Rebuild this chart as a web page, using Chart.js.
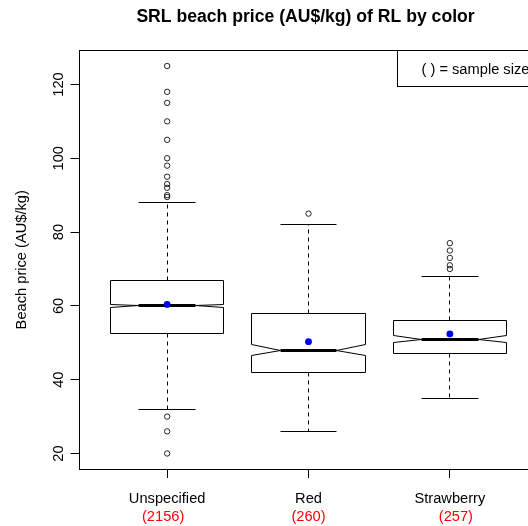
<!DOCTYPE html>
<html>
<head>
<meta charset="utf-8">
<script src="https://cdn.jsdelivr.net/npm/chart.js@4.4.1/dist/chart.umd.min.js"></script>
<style>
  html, body { margin: 0; padding: 0; background: #fff; overflow: hidden; }
  #wrap { width: 528px; height: 526px; overflow: hidden; position: relative; }
  canvas { display: block; }
</style>
</head>
<body>
<div id="wrap"><canvas id="chart" width="546" height="526"></canvas></div>
<script>
// ---- data -------------------------------------------------------------
const categories   = ['Unspecified', 'Red', 'Strawberry'];
const sampleSizes  = [2156, 260, 257];
const whiskerLow   = [32, 26, 35];
const hingeLow     = [52.5, 42, 47];
const medians      = [60, 48, 51];
const hingeHigh    = [67, 58, 56];
const whiskerHigh  = [88, 82, 68];
const means        = [60.4, 50.3, 52.4];
const outliersUnspecified = [125, 118, 115, 110, 105, 100, 98, 95, 93, 92, 90, 89.5, 30, 26, 20];
const outliersRed         = [85];
const outliersStrawberry  = [77, 75, 73, 71, 70];
const yTicks = [20, 40, 60, 80, 100, 120];

const titleText  = 'SRL beach price (AU$/kg) of RL by color';
const yTitleText = 'Beach price (AU$/kg)';
const legendText = '( ) = sample size';

// ---- layout / style ---------------------------------------------------
const FONT = '"Liberation Sans", Arial, Helvetica, sans-serif';
const BASE = 14.67;
const xRange = [0.38, 3.62];
const yRange = [15.8, 129.2];
const boxWex = 0.8;          // full box width in category units
const stapleWex = 0.5;       // whisker cap width relative to box
const countNudge = [-4, 0, 6];

const outlierGroups = [outliersUnspecified, outliersRed, outliersStrawberry];
const outlierPoints = [];
outlierGroups.forEach((grp, i) => grp.forEach(v => outlierPoints.push({ x: i + 1, y: v })));
const meanPoints = means.map((v, i) => ({ x: i + 1, y: v }));

const snap = v => Math.floor(v) + 0.5;

function seg(ctx, x1, y1, x2, y2) {
  ctx.beginPath();
  ctx.moveTo(x1, y1);
  ctx.lineTo(x2, y2);
  ctx.stroke();
}

// Notched boxes, whiskers, caps and medians
const boxPlugin = {
  id: 'notchedBoxes',
  beforeDatasetsDraw(chart) {
    const { ctx } = chart;
    const xs = chart.scales.x, ys = chart.scales.y;
    const px = v => snap(xs.getPixelForValue(v));
    const py = v => snap(ys.getPixelForValue(v));
    ctx.save();
    ctx.strokeStyle = '#000';
    categories.forEach((_, i) => {
      const c = i + 1;
      const half = boxWex / 2, nHalf = half / 2, st = half * stapleWex;
      const notch = 1.58 * (hingeHigh[i] - hingeLow[i]) / Math.sqrt(sampleSizes[i]);
      const m = medians[i];

      ctx.lineWidth = 1;
      ctx.beginPath();
      ctx.moveTo(px(c - half), py(hingeLow[i]));
      ctx.lineTo(px(c - half), py(m - notch));
      ctx.lineTo(px(c - nHalf), py(m));
      ctx.lineTo(px(c - half), py(m + notch));
      ctx.lineTo(px(c - half), py(hingeHigh[i]));
      ctx.lineTo(px(c + half), py(hingeHigh[i]));
      ctx.lineTo(px(c + half), py(m + notch));
      ctx.lineTo(px(c + nHalf), py(m));
      ctx.lineTo(px(c + half), py(m - notch));
      ctx.lineTo(px(c + half), py(hingeLow[i]));
      ctx.closePath();
      ctx.stroke();

      ctx.setLineDash([4, 4]);
      seg(ctx, px(c), py(hingeHigh[i]), px(c), py(whiskerHigh[i]));
      seg(ctx, px(c), py(hingeLow[i]), px(c), py(whiskerLow[i]));
      ctx.setLineDash([]);

      seg(ctx, px(c - st), py(whiskerHigh[i]), px(c + st), py(whiskerHigh[i]));
      seg(ctx, px(c - st), py(whiskerLow[i]), px(c + st), py(whiskerLow[i]));

      ctx.lineWidth = 3;
      seg(ctx, px(c - nHalf), py(m), px(c + nHalf), py(m));
    });
    ctx.restore();
  }
};

// Frame, titles, tick labels and the sample-size note
const textPlugin = {
  id: 'annotations',
  afterDraw(chart) {
    const { ctx, chartArea: a } = chart;
    const xs = chart.scales.x, ys = chart.scales.y;
    ctx.save();
    ctx.strokeStyle = '#000';
    ctx.lineWidth = 1;
    ctx.strokeRect(snap(a.left), snap(a.top), snap(a.right) - snap(a.left), snap(a.bottom) - snap(a.top));

    ctx.fillStyle = '#000';
    ctx.textAlign = 'center';
    ctx.textBaseline = 'alphabetic';

    // main title
    ctx.font = `bold ${BASE * 1.2}px ${FONT}`;
    ctx.fillText(titleText, xs.getPixelForValue(2) - 3, 21.5);

    // y tick labels (rotated, as in base graphics)
    ctx.font = `${BASE}px ${FONT}`;
    yTicks.forEach(v => {
      ctx.save();
      ctx.translate(a.left - 17, ys.getPixelForValue(v));
      ctx.rotate(-Math.PI / 2);
      ctx.fillText(String(v), 0, 0);
      ctx.restore();
    });

    // y axis title
    ctx.save();
    ctx.translate(a.left - 53.5, (a.top + a.bottom) / 2);
    ctx.rotate(-Math.PI / 2);
    ctx.fillText(yTitleText, 0, 0);
    ctx.restore();

    // category names and sample sizes
    categories.forEach((name, i) => {
      const cx = xs.getPixelForValue(i + 1);
      ctx.fillStyle = '#000';
      ctx.fillText(name, cx, a.bottom + 33.5);
      ctx.fillStyle = '#FF0000';
      ctx.fillText('(' + sampleSizes[i] + ')', cx + countNudge[i], a.bottom + 52);
    });

    // sample-size note in the top-right corner
    const lw = 140, lh = 36;
    const lx = a.right - lw, ly = a.top;
    ctx.strokeRect(snap(lx), snap(ly), lw, lh);
    ctx.fillStyle = '#000';
    ctx.textAlign = 'left';
    ctx.fillText(legendText, lx + 24, ly + 23.5);
    ctx.restore();
  }
};

const gridOpts = { drawOnChartArea: false, drawTicks: true, tickLength: 9, color: '#000', lineWidth: 1 };

new Chart(document.getElementById('chart'), {
  type: 'scatter',
  data: {
    datasets: [
      {
        label: 'outliers',
        data: outlierPoints,
        pointStyle: 'circle',
        pointRadius: 2.7,
        pointBorderWidth: 1,
        pointBorderColor: '#222',
        pointBackgroundColor: 'rgba(0,0,0,0)'
      },
      {
        label: 'mean',
        data: meanPoints,
        pointStyle: 'circle',
        pointRadius: 3.4,
        pointBorderWidth: 0,
        pointBackgroundColor: '#0000FF'
      }
    ]
  },
  options: {
    responsive: false,
    animation: false,
    events: [],
    layout: { padding: { top: 50.5, right: 8.5, bottom: 0, left: 0 } },
    plugins: { legend: { display: false }, title: { display: false }, tooltip: { enabled: false } },
    scales: {
      x: {
        type: 'linear',
        min: xRange[0], max: xRange[1],
        afterBuildTicks: s => { s.ticks = categories.map((_, i) => ({ value: i + 1 })); },
        afterFit: s => { s.height = 57; },
        ticks: { display: false },
        grid: gridOpts,
        border: { display: false }
      },
      y: {
        type: 'linear',
        min: yRange[0], max: yRange[1],
        afterBuildTicks: s => { s.ticks = yTicks.map(v => ({ value: v })); },
        afterFit: s => { s.width = 79.5; },
        ticks: { display: false },
        grid: gridOpts,
        border: { display: false }
      }
    }
  },
  plugins: [boxPlugin, textPlugin]
});
</script>
</body>
</html>
